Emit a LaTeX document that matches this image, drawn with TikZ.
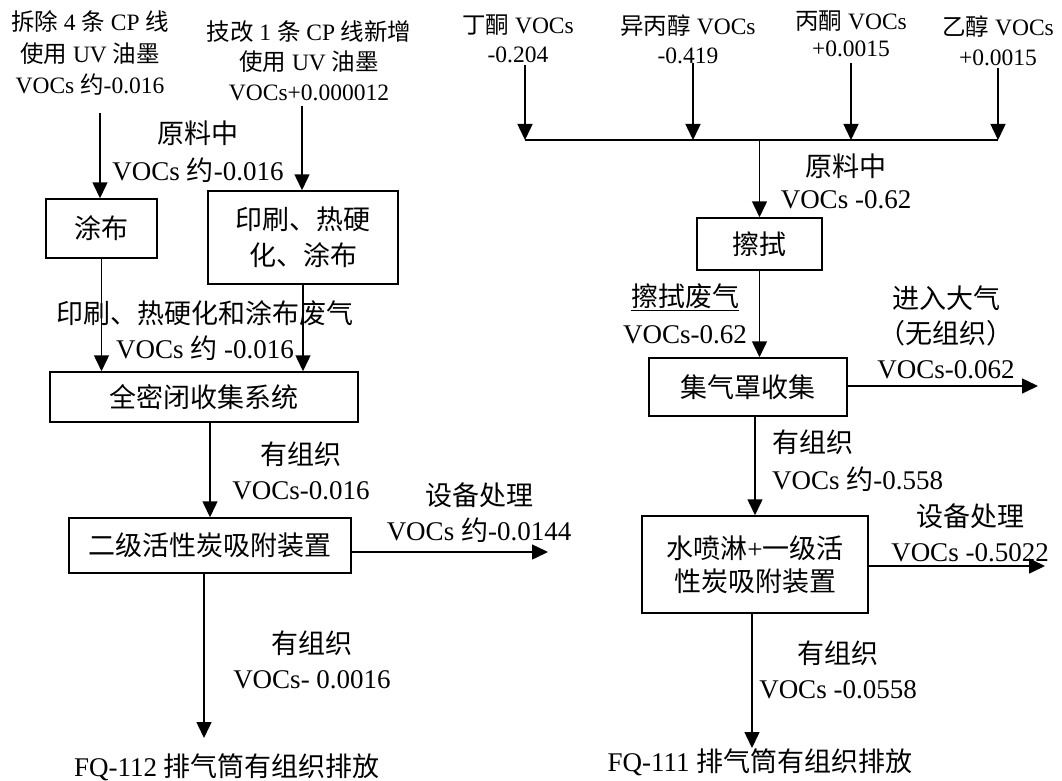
\documentclass[tikz,border=0pt]{standalone}
\usepackage{fontspec}
\setmainfont{Liberation Serif}
\newfontfamily\cjk{Noto Sans CJK SC}
\newcommand{\zh}[1]{{\cjk #1}}
\newcommand{\lsp}[1]{\fontsize{27}{#1}\selectfont}
\newcommand{\ssp}[1]{\fontsize{23.5}{#1}\selectfont}
\usepackage{tikz}
\usetikzlibrary{positioning, arrows.meta}

\tikzset{
  box/.style={draw, line width=1.5pt, align=center, inner sep=0pt},
  lbl/.style={align=center, inner sep=0pt},
  flow/.style={line width=1.5pt, -{Triangle[width=15pt,length=16pt]}},
}

\begin{document}
\begin{tikzpicture}[x=1pt, y=-1pt, font=\lsp{33}]
  \useasboundingbox (0,0) rectangle (1062,781);

  % left line: FQ-112
  \node[lbl, font=\ssp{31.5}] (src1) at (90,53) {\zh{拆除} 4 \zh{条} CP \zh{线}\\\zh{使用} UV \zh{油墨}\\VOCs \zh{约}-0.016};
  \node[lbl, font=\ssp{30}] (src2) at (309,61) {\zh{技改} 1 \zh{条} CP \zh{线新增}\\\zh{使用} UV \zh{油墨}\\VOCs+0.000012};
  \coordinate (in1) at (100,113);
  \coordinate (in2) at (302,106);

  \node[box, minimum width=111pt, minimum height=59pt] (tubu) at (101.5,228.5) {\zh{涂布}};
  \node[box, minimum width=190pt, minimum height=93pt, font=\lsp{36}] (yinshua) at (303,237.5) {\zh{印刷、热硬}\\\zh{化、涂布}};
  \node[box, minimum width=308pt, minimum height=50pt] (quanmi) at (204,397) {\zh{全密闭收集系统}};
  \node[box, minimum width=282pt, minimum height=55pt] (erji) at (210,545.5) {\zh{二级活性炭吸附装置}};
  \coordinate (dev1) at (548,552);
  \coordinate (out1) at (204,738);

  \draw[flow] (in1) -- (in1 |- tubu.north);
  \draw[flow] (in2) -- (in2 |- yinshua.north);
  \draw[flow] (tubu.south) -- (tubu.south |- quanmi.north);
  \draw[flow] (yinshua.south) -- (yinshua.south |- quanmi.north);
  \draw[flow] (erji.north |- quanmi.south) -- (erji.north);
  \draw[flow] (erji.east |- dev1) -- (dev1);
  \draw[flow] (erji.south -| out1) -- (out1);

  \node[lbl, font=\lsp{37}] (raw1) at (198,152) {\zh{原料中}\\VOCs \zh{约}-0.016};
  \node[lbl, font=\lsp{35}] (gas1) at (205,330.5) {\zh{印刷、热硬化和涂布废气}\\VOCs \zh{约} -0.016};
  \node[lbl, font=\lsp{35}] (org1) at (301,470.5) {\zh{有组织}\\VOCs-0.016};
  \node[lbl, font=\lsp{35}] (trt1) at (479,512.5) {\zh{设备处理}\\VOCs \zh{约}-0.0144};
  \node[lbl, font=\lsp{35}] (org2) at (312,659.5) {\zh{有组织}\\VOCs- 0.0016};
  \node[lbl] (fq112) at (227,767) {FQ-112 \zh{排气筒有组织排放}};

  % right line: FQ-111
  \node[lbl, font=\ssp{29}] (ding) at (518,39) {\zh{丁酮} VOCs\\-0.204};
  \node[lbl, font=\ssp{29}] (yibing) at (688,39) {\zh{异丙醇} VOCs\\-0.419};
  \node[lbl, font=\ssp{27}] (bingtong) at (851,34) {\zh{丙酮} VOCs\\+0.0015};
  \node[lbl, font=\ssp{30}] (yichun) at (998,40.5) {\zh{乙醇} VOCs\\+0.0015};
  \coordinate (a1) at (525,65);
  \coordinate (a2) at (693,63);
  \coordinate (a3) at (851,63);
  \coordinate (a4) at (998,68);
  \coordinate (b1) at (525,140);
  \coordinate (b4) at (998,140);
  \draw[line width=1.5pt] (b1) -- (b4);
  \foreach \i in {1,...,4}
    \draw[flow] (a\i) -- (a\i |- b1);

  \node[box, minimum width=125pt, minimum height=52pt] (cashi) at (759.5,244) {\zh{擦拭}};
  \node[box, minimum width=198pt, minimum height=58pt] (jiqi) at (748,387) {\zh{集气罩收集}};
  \node[box, minimum width=226pt, minimum height=97pt] (shui) at (755,564.5) {\zh{水喷淋}+\zh{一级活}\\\zh{性炭吸附装置}};
  \coordinate (air) at (1038,386);
  \coordinate (dev2) at (1045,566);
  \coordinate (out2) at (752,748);

  \draw[flow] (cashi.north |- b1) -- (cashi.north);
  \draw[flow] (cashi.south) -- (cashi.south |- jiqi.north);
  \draw[flow] (jiqi.east |- air) -- (air);
  \draw[flow] (shui.north |- jiqi.south) -- (shui.north);
  \draw[flow] (shui.east |- dev2) -- (dev2);
  \draw[flow] (shui.south -| out2) -- (out2);

  \node[lbl, font=\lsp{32}] (raw2) at (846,181) {\zh{原料中}\\VOCs -0.62};
  \node[lbl, font=\lsp{37}] (gas2) at (685,313.5) {\underline{\zh{擦拭废气}}\\VOCs-0.62};
  \node[lbl, font=\lsp{35}] (atm) at (946,332) {\zh{进入大气}\\\zh{（无组织）}\\VOCs-0.062};
  \node[lbl, font=\lsp{37}, align=left, anchor=west] (org3) at (772,460.5) {\zh{有组织}\\VOCs \zh{约}-0.558};
  \node[lbl, font=\lsp{35}] (trt2) at (970,532.5) {\zh{设备处理}\\VOCs -0.5022};
  \node[lbl, font=\lsp{35}] (org4) at (838,669.5) {\zh{有组织}\\VOCs -0.0558};
  \node[lbl] (fq111) at (760,762) {FQ-111 \zh{排气筒有组织排放}};
\end{tikzpicture}
\end{document}
